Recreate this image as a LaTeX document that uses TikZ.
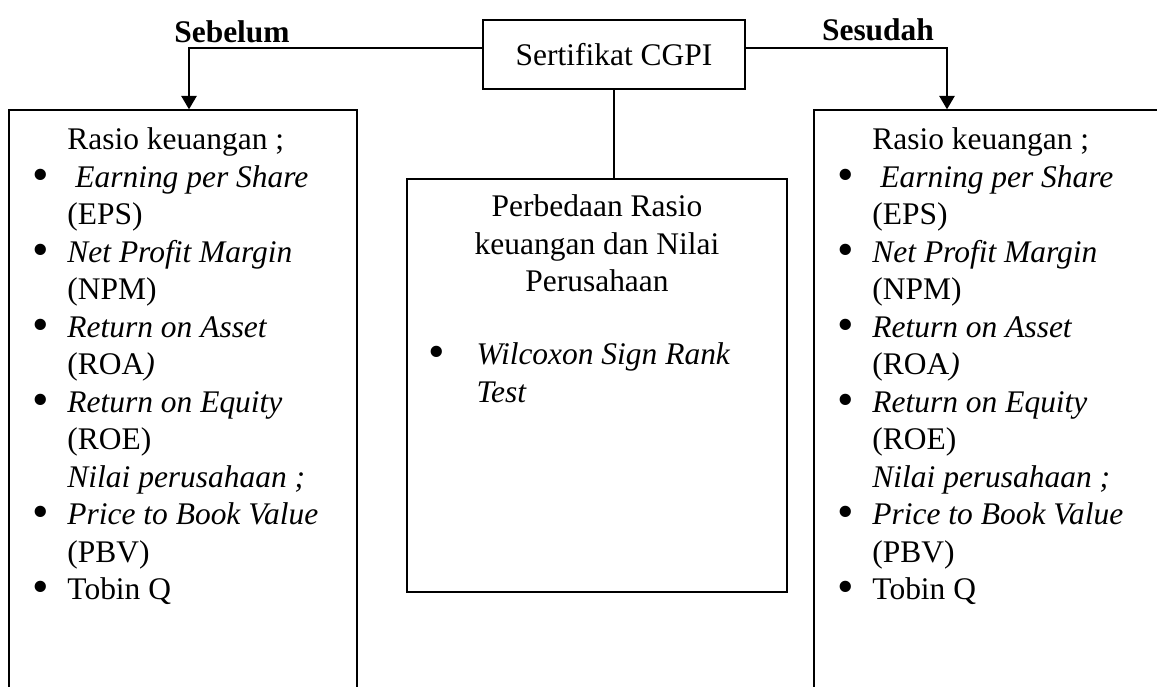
\documentclass[tikz,border=0pt]{standalone}
\usepackage{fontspec}
\setmainfont{Liberation Serif}
\usepackage{graphicx}
\usepackage{tikz}
\usetikzlibrary{positioning, arrows.meta}

\newcommand{\bigtxt}{\fontsize{23.6pt}{28.1pt}\selectfont}
\newcommand{\bigdot}{\raisebox{-2.2pt}{\scalebox{1.5}{\textbullet}}}
\newcommand{\bul}{\makebox[26.6pt][l]{\bigdot}}
\newcommand{\nob}{\hspace*{26.6pt}}
\newcommand{\midbul}{\makebox[36.4pt][l]{\bigdot}}
\newcommand{\rasiolist}{%
	\nob Rasio keuangan ;\\
	\bul\ \textit{Earning per Share}\\
	\nob (EPS)\\
	\bul\textit{Net Profit Margin}\\
	\nob (NPM)\\
	\bul\textit{Return on Asset}\\
	\nob (ROA\textit{)}\\
	\bul\textit{Return on Equity}\\
	\nob (ROE)\\
	\nob\textit{Nilai perusahaan ;}\\
	\bul\textit{Price to Book Value}\\
	\nob (PBV)\\
	\bul Tobin Q}

\begin{document}
\begin{tikzpicture}[x=0.75pt, y=-0.75pt]
			
			% Styles
			\tikzset{
				panel/.style={
					rectangle, draw, line width=1.1pt, inner sep=0pt
				},
				listtext/.style={
					align=left, inner sep=0pt, font=\bigtxt
				},
				arrow/.style={line width=1.1pt, -{Triangle[length=10pt, width=11.5pt]}},
				link/.style={line width=1.1pt},
				labelbox/.style={
					draw=none, fill=none, anchor=base, font=\bigtxt\bfseries
				}
			}
			
			\useasboundingbox (0,0) rectangle (1157,686);
			\clip (0,0) rectangle (1157,686);
			
			% Sertifikat CGPI
			\node (cgpi) [panel, minimum width=196.5pt, minimum height=51.75pt, font=\bigtxt] at (614,54.5) {Sertifikat CGPI};
			
			% Boxes below
			\node (before) [panel, minimum width=261pt, minimum height=457.5pt] at (183,415) {};
			\node (diff) [panel, minimum width=285pt, minimum height=309.75pt] at (597,385.5) {};
			\node (after) [panel, minimum width=282pt, minimum height=457.5pt] at (1002,415) {};
			
			% Texts in the boxes
			\node (beforelist) [listtext, below right=13.9pt and 17.6pt of before.north west] {\rasiolist};
			\node (afterlist) [listtext, below right=13.9pt and 17.6pt of after.north west] {\rasiolist};
			\node (difftitle) [listtext, align=center, below=12.4pt of diff.north] {Perbedaan Rasio\\ keuangan dan Nilai\\ Perusahaan};
			\node (difflist) [listtext, below right=123.4pt and 16.1pt of diff.north west] {\midbul\textit{Wilcoxon Sign Rank}\\ \hspace*{36.4pt}\textit{Test}};
			
			% Labels
			\node (sebelum) [labelbox] at (232,42) {Sebelum};
			\node (sesudah) [labelbox] at (878,40) {Sesudah};
			
			% Arrows
			\draw[arrow] (cgpi.west |- 0,48) -| (before.north -| 189,0);
			\draw[arrow] (cgpi.east |- 0,48) -| (after.north -| 947,0);
			\draw[link] (cgpi.south) -- (cgpi.south |- diff.north);
			
		\end{tikzpicture}
\end{document}
